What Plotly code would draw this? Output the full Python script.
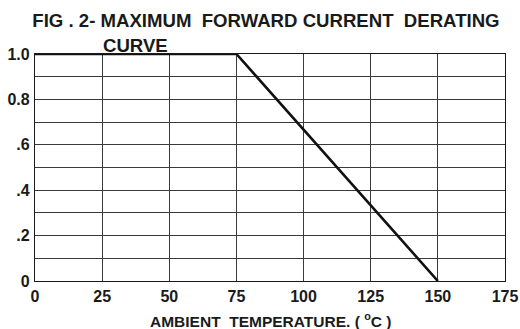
import plotly.graph_objects as go

# Derating curve: full rated current up to 75 °C, then linear to zero at 150 °C
temperature = [0, 75, 150]
current_ratio = [1.0, 1.0, 0.0]

x_ticks = [0, 25, 50, 75, 100, 125, 150, 175]
x_tick_labels = ["0", "25", "50", "75", "100", "125", "150", "175"]
y_ticks = [0, 0.2, 0.4, 0.6, 0.8, 1.0]
y_tick_labels = ["0", ".2", ".4", ".6", "0.8", "1.0"]

FONT = "Liberation Sans, Arial, sans-serif"
INK = "#1a1a1a"

fig = go.Figure()
fig.add_trace(go.Scatter(
    x=temperature, y=current_ratio, mode="lines",
    line=dict(color="#111111", width=2.6),
    showlegend=False, hoverinfo="skip",
))

fig.update_layout(
    width=520, height=329,
    margin=dict(l=35, r=15, t=54, b=48, autoexpand=False),
    paper_bgcolor="white", plot_bgcolor="white",
    font=dict(family=FONT, color=INK, weight="bold"),
    title=dict(
        text="FIG . 2- MAXIMUM  FORWARD CURRENT  DERATING",
        x=0.5115, xref="container", xanchor="center",
        y=0.937, yref="container", yanchor="middle",
        font=dict(family=FONT, size=18.6, color=INK, weight="bold"),
    ),
    annotations=[
        dict(text="CURVE", xref="paper", yref="paper",
             x=0.2133, y=1.036, xanchor="center", yanchor="middle",
             showarrow=False, font=dict(family=FONT, size=18.6, color=INK, weight="bold")),
        dict(text="AMBIENT  TEMPERATURE. ( <sup>o</sup>C )", xref="paper", yref="paper",
             x=0.5, y=-0.172, xanchor="center", yanchor="middle",
             showarrow=False, font=dict(family=FONT, size=15.5, color=INK, weight="bold")),
    ],
)

fig.update_xaxes(
    range=[0, 175], tickmode="array", tickvals=x_ticks, ticktext=x_tick_labels,
    tickfont=dict(family=FONT, size=16, color=INK, weight="bold"),
    showgrid=True, gridcolor="#3a3a3a", gridwidth=1,
    zeroline=False, automargin=False,
    showline=True, linecolor=INK, linewidth=1.2, mirror=True,
    ticks="outside", ticklen=1, tickcolor="rgba(0,0,0,0)",
)
fig.update_yaxes(
    range=[0, 1.0], tickmode="array", tickvals=y_ticks, ticktext=y_tick_labels,
    tickfont=dict(family=FONT, size=16, color=INK, weight="bold"),
    showgrid=False, zeroline=False, automargin=False,
    minor=dict(tickmode="linear", tick0=0, dtick=0.1, showgrid=True,
               gridcolor="#3a3a3a", gridwidth=1),
    showline=True, linecolor=INK, linewidth=1.2, mirror=True,
    ticks="outside", ticklen=1, tickcolor="rgba(0,0,0,0)",
)

fig.write_html("out.html")
